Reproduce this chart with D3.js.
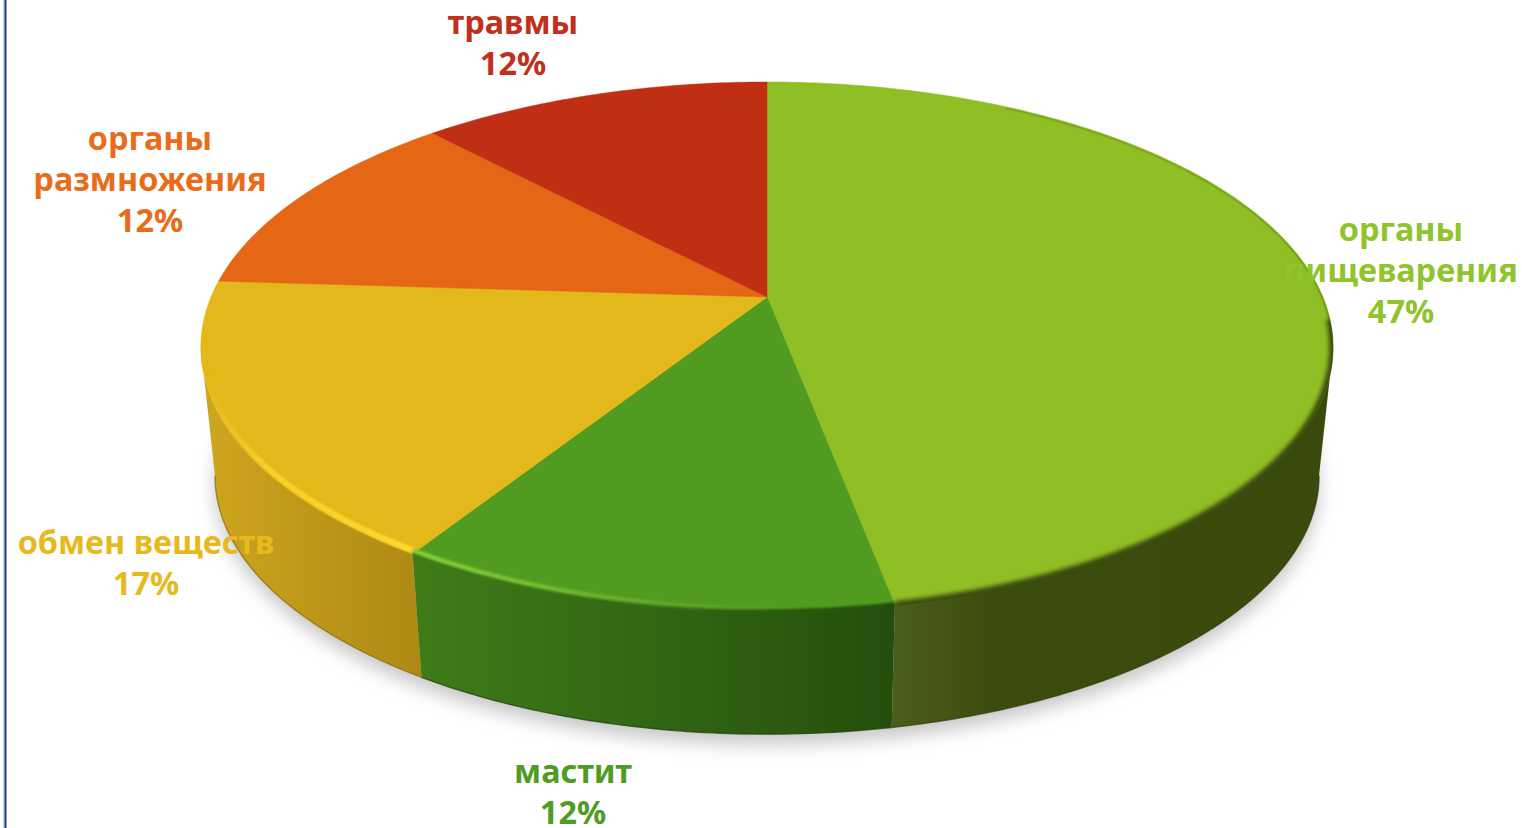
<!DOCTYPE html>
<html><head><meta charset="utf-8">
<script src="https://cdn.jsdelivr.net/npm/d3@7/dist/d3.min.js"></script>
<style>html,body{margin:0;padding:0;background:#fff;overflow:hidden}svg{display:block}</style>
</head><body><svg id="c" width="1522" height="828"></svg>
<script>
// ---- data ----
const categories = ["органы пищеварения","мастит","обмен веществ","органы размножения","травмы"];
const values = [47,12,17,12,12];
const labelLines = [["органы","пищеварения"],["мастит"],["обмен веществ"],["органы","размножения"],["травмы"]];

// ---- styles and layout ----
const topColors = ["#8fbe25","#519c20","#e3b81a","#e56615","#c02f14"];
const textColors = ["#8fc42c","#4f9c24","#e6b91e","#e86c1a","#c0301a"];
const sideStops = [
  [[893,"#4c5e1a"],[990,"#3c4c0e"],[1330,"#3a4a0c"]],
  [[415,"#3f7c18"],[700,"#2f6212"],[892,"#244e0c"]],
  [[200,"#cfa61e"],[423,"#ad8914"]]
];
const labelPos = [[1401,241],[573,783],[146,554],[150,150],[513,34]];
const lineH = 41;

const svg = d3.select("#c");
const defs = svg.append("defs");
const blur = (id,s)=>defs.append("filter").attr("id",id).attr("x","-20%").attr("y","-20%").attr("width","140%").attr("height","140%")
  .append("feGaussianBlur").attr("stdDeviation",s);
blur("shadow",9); blur("b2",2.2); blur("b1",1.3);

// left page border
svg.append("rect").attr("x",3).attr("y",0).attr("width",1.5).attr("height",828).attr("fill","#c4cfe2");
svg.append("rect").attr("x",4.5).attr("y",0).attr("width",2).attr("height",828).attr("fill","#1f3a70");

// perspective of the disc: the unit circle mapped through a homography
const K = 0.1887;
const sx = d3.scaleLinear().domain([0,1]).range([767,767+556]);
const sy = d3.scaleLinear().domain([0,1]).range([297,297+255.6]);
const syB = d3.scaleLinear().domain([0,1]).range([427,427+255.6*0.975]);
const sxB = d3.scaleLinear().domain([0,1]).range([767,767+556*0.975]);
function P(a,xs,ys){const u=Math.sin(a),v=-Math.cos(a),w=1-K*v;return [xs(u/w),ys(v/w)];}
const topP = a=>P(a,sx,sy), botP = a=>P(a,sxB,syB);
const shift = (d,f)=>a=>{const p=f(a);return [p[0],p[1]+d];};
const line = d3.line();
const samples=(a0,a1)=>{const n=Math.max(2,Math.ceil((a1-a0)*80));return d3.range(n+1).map(i=>a0+(a1-a0)*i/n);};
const deg=a=>a*Math.PI/180;

const arcs = d3.pie().sort(null).value(d=>d)(values);

// soft shadow under the disc
svg.append("path")
  .attr("d",line(samples(0,2*Math.PI).map(shift(10,botP)))+"Z")
  .attr("fill","#a4a4a4").attr("opacity",.62).attr("filter","url(#shadow)");

// side wall: only the part facing the viewer, between the two silhouette tangents
const tangentR = Math.PI-Math.acos(K), tangentL = Math.PI+Math.acos(K);
[0,2,1].forEach(i=>{
  const d=arcs[i];
  const g=defs.append("linearGradient").attr("id","side"+i).attr("gradientUnits","userSpaceOnUse")
    .attr("x1",sideStops[i][0][0]).attr("x2",sideStops[i][sideStops[i].length-1][0]).attr("y1",0).attr("y2",0);
  const x0=sideStops[i][0][0],x1=sideStops[i][sideStops[i].length-1][0];
  sideStops[i].forEach(s=>g.append("stop").attr("offset",(s[0]-x0)/(x1-x0)).attr("stop-color",s[1]));
  const aa=samples(Math.max(d.startAngle,tangentR),Math.min(d.endAngle,tangentL));
  const pts=aa.map(topP).concat(aa.slice().reverse().map(botP));
  svg.append("path").attr("d",line(pts)+"Z").attr("fill",`url(#side${i})`);
  // dark foot of the wall
  svg.append("path").attr("d",line(aa.map(botP))).attr("fill","none")
    .attr("stroke",d3.color(sideStops[i][sideStops[i].length-1][1]).darker(.7)).attr("stroke-width",1.4).attr("opacity",.7);
});

// top surface
arcs.forEach((d,i)=>{
  const pts=[[sx(0),sy(0)]].concat(samples(d.startAngle,d.endAngle).map(topP));
  svg.append("path").attr("d",line(pts)+"Z").attr("fill",topColors[i]).attr("stroke",topColors[i]).attr("stroke-width",.5);
});

// bevel along the rim
const clip=defs.append("clipPath").attr("id","disc");
clip.append("path").attr("d",line(samples(0,2*Math.PI).map(shift(1,topP)))+"Z");
const bevel=svg.append("g").attr("clip-path","url(#disc)");
bevel.append("path").attr("d",line(samples(deg(30),deg(100)).map(topP))).attr("fill","none")
  .attr("stroke","#55701a").attr("stroke-width",2.2).attr("filter","url(#b1)");
bevel.append("path").attr("d",line(samples(deg(tangentR*180/Math.PI-6),deg(169.2)).map(topP))).attr("fill","none")
  .attr("stroke","#3a4a0c").attr("stroke-width",8).attr("filter","url(#b2)");
bevel.append("path").attr("d",line(samples(deg(169.2),deg(212.4)).map(topP))).attr("fill","none")
  .attr("stroke","url(#side1)").attr("stroke-width",6).attr("filter","url(#b1)");

const hl=(id,x1,x2,c,mid)=>{const g=defs.append("linearGradient").attr("id",id).attr("gradientUnits","userSpaceOnUse").attr("x1",x1).attr("x2",x2).attr("y1",0).attr("y2",0);
  g.append("stop").attr("offset",0).attr("stop-color",c).attr("stop-opacity",1);
  g.append("stop").attr("offset",mid).attr("stop-color",c).attr("stop-opacity",.75);
  g.append("stop").attr("offset",1).attr("stop-color",c).attr("stop-opacity",0);};
hl("hlG",420,800,"#86d03a",.3); hl("hlY",415,205,"#ffd92a",.7);
svg.append("path").attr("d",line(samples(deg(176),deg(212.4)).map(shift(-3.5,topP)))).attr("fill","none")
  .attr("stroke","url(#hlG)").attr("stroke-width",4.5).attr("filter","url(#b1)");
svg.append("path").attr("d",line(samples(deg(212.4),deg(262)).map(shift(-3.5,topP)))).attr("fill","none")
  .attr("stroke","url(#hlY)").attr("stroke-width",6).attr("filter","url(#b1)");

// labels
arcs.forEach((d,i)=>{
  const t=svg.append("text").attr("text-anchor","middle")
    .attr("font-family","'Noto Sans',sans-serif").attr("font-weight",700).attr("font-size",32.4)
    .attr("fill",textColors[i]);
  labelLines[i].concat([values[i]+"%"]).forEach((s,j)=>{
    t.append("tspan").attr("x",labelPos[i][0]).attr("y",labelPos[i][1]+j*lineH).text(s);
  });
});
</script></body></html>
